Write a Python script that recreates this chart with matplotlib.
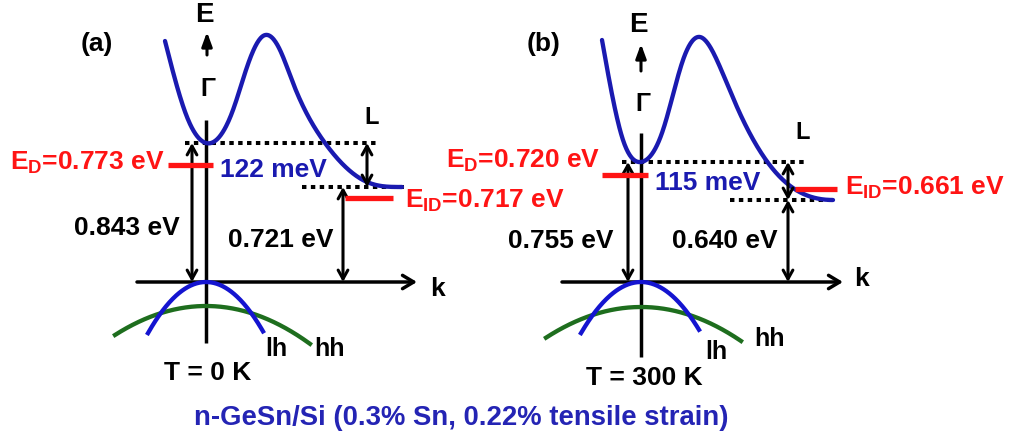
import matplotlib
matplotlib.use("Agg")
import matplotlib.pyplot as plt
import numpy as np

# values shown on the two band diagrams
panel_tags = ["(a)", "(b)"]
temperatures_K = [0, 300]
gap_gamma_eV = [0.843, 0.755]
gap_L_eV = [0.721, 0.640]
donor_gamma_eV = [0.773, 0.720]
donor_L_eV = [0.717, 0.661]
offset_meV = [122, 115]
caption = "n-GeSn/Si (0.3% Sn, 0.22% tensile strain)"

# schematic layout (pixels of the 1017x436 canvas)
panels = [
    dict(x0=206, ky=282, gy=143, ly=187, line_top=120, line_bot=343,
         kx=(137, 417), tag=(97, 44), E=(204, 15), Earr=(55, 32), Gam=(208, 89),
         Lxy=(372, 117), kxy=(438, 289),
         top_dot=(185, 378), bot_dot=(302, 405),
         ed=(165, 168, 213), eid=(198, 345, 393),
         arr_g=192, arr_l=343, arr_off=367,
         ed_lab=(165, 170), eid_lab=(405, 208), off_lab=(220, 177),
         gg_lab=(180, 235), gl_lab=(333, 247),
         lh=(-58, 57, 0.0152), hh=(-91, 104, 0.0035, 306),
         lh_lab=(276, 349), hh_lab=(329, 349), T_lab=(208, 373),
         band=[(-41, 41), (-19, 117), (0, 143), (27, 110), (41, 67), (57, 36),
               (74, 50), (87, 83), (119, 143), (161, 182), (196, 187)]),
    dict(x0=641, ky=282, gy=162, ly=200, line_top=133, line_bot=357,
         kx=(562, 843), tag=(544, 44), E=(638, 25), Earr=(71, 44), Gam=(643, 104),
         Lxy=(803, 132), kxy=(862, 279),
         top_dot=(622, 808), bot_dot=(730, 835),
         ed=(175, 602, 648), eid=(189, 795, 837),
         arr_g=628, arr_l=788, arr_off=788,
         ed_lab=(600, 168), eid_lab=(845, 195), off_lab=(655, 190),
         gg_lab=(613, 248), gl_lab=(778, 248),
         lh=(-60, 58, 0.0142), hh=(-95, 100, 0.0034, 307),
         lh_lab=(716, 352), hh_lab=(769, 339), T_lab=(644, 378),
         band=[(-39, 40), (-18, 140), (0, 162), (22, 130), (42, 60), (59, 37),
               (79, 67), (96, 107), (139, 177), (192, 200)]),
]

BLUE = "#1a1ab0"
RED = "#ff1414"
GREEN = "#1e6e1e"

plt.rcParams["font.family"] = ["Liberation Sans", "DejaVu Sans"]
plt.rcParams["font.weight"] = "bold"
plt.rcParams["mathtext.fontset"] = "custom"
plt.rcParams["mathtext.rm"] = "Liberation Sans:bold"
plt.rcParams["mathtext.it"] = "Liberation Sans:bold"
plt.rcParams["mathtext.bf"] = "Liberation Sans:bold"


def smooth(xk, yk, n=400):
    # cubic spline through the sketch knots: free start, flat at the L end
    xk = np.asarray(xk, float)
    yk = np.asarray(yk, float)
    nk = len(xk)
    h = np.diff(xk)
    d = np.diff(yk) / h
    A = np.zeros((nk, nk))
    r = np.zeros(nk)
    A[0, 0] = 1.0
    for i in range(1, nk - 1):
        A[i, i - 1] = h[i - 1]
        A[i, i] = 2 * (h[i - 1] + h[i])
        A[i, i + 1] = h[i]
        r[i] = 6 * (d[i] - d[i - 1])
    A[-1, -2] = h[-1]
    A[-1, -1] = 2 * h[-1]
    r[-1] = 6 * (0 - d[-1])
    M = np.linalg.solve(A, r)
    x = np.linspace(xk[0], xk[-1], n)
    j = np.clip(np.searchsorted(xk, x) - 1, 0, nk - 2)
    a = xk[j + 1] - x
    b = x - xk[j]
    hj = h[j]
    y = (M[j] * a**3 / (6 * hj) + M[j + 1] * b**3 / (6 * hj)
         + (yk[j] / hj - M[j] * hj / 6) * a + (yk[j + 1] / hj - M[j + 1] * hj / 6) * b)
    return x, y


def arrow(ax, x, y1, y2, style="<->", lw=2.2, ms=14):
    ax.annotate("", xy=(x, y2), xytext=(x, y1),
                arrowprops=dict(arrowstyle=style + ",head_length=0.45,head_width=0.25",
                                lw=lw, color="black", shrinkA=0, shrinkB=0,
                                mutation_scale=ms))


fig = plt.figure(figsize=(10.17, 4.36), dpi=100)
ax = fig.add_axes([0, 0, 1, 1])
ax.set_xlim(0, 1017)
ax.set_ylim(436, 0)
ax.axis("off")

fs = 19
for i, p in enumerate(panels):
    x0, ky = p["x0"], p["ky"]

    # axes
    ax.plot([x0, x0], [p["line_top"], p["line_bot"]], color="black", lw=2.5, solid_capstyle="butt")
    ax.annotate("", xy=(p["kx"][1], ky), xytext=(p["kx"][0], ky),
                arrowprops=dict(arrowstyle="->,head_length=0.5,head_width=0.3", lw=2.5,
                                color="black", shrinkA=0, shrinkB=0, mutation_scale=16))
    ax.annotate("", xy=(p["E"][0] + 3, p["Earr"][1]), xytext=(p["E"][0] + 3, p["Earr"][0]),
                arrowprops=dict(arrowstyle="-|>,head_length=0.6,head_width=0.22", lw=2.2,
                                color="black", shrinkA=0, shrinkB=0, mutation_scale=14))
    ax.text(*p["E"], "E", fontsize=20, ha="center", va="center")
    ax.text(*p["Gam"], "Γ", fontsize=18, ha="center", va="center")
    ax.text(*p["Lxy"], "L", fontsize=17, ha="center", va="center")
    ax.text(*p["kxy"], "k", fontsize=fs, ha="center", va="center")
    ax.text(*p["tag"], panel_tags[i], fontsize=fs, ha="center", va="center")

    # conduction band
    bx, by = zip(*p["band"])
    cx, cy = smooth(np.array(bx) + x0, by)
    ax.plot(cx, cy, color=BLUE, lw=3.1, solid_capstyle="round", zorder=3)

    # valence bands
    lo, hi, c = p["lh"]
    k = np.linspace(lo, hi, 200)
    ax.plot(k + x0, ky + c * k**2, color="#1414d0", lw=3.1, zorder=3)
    lo, hi, c, top = p["hh"]
    k = np.linspace(lo, hi, 200)
    ax.plot(k + x0, top + c * k**2, color=GREEN, lw=3.1, zorder=2)
    ax.text(*p["lh_lab"], "lh", fontsize=18, ha="center", va="center")
    ax.text(*p["hh_lab"], "hh", fontsize=18, ha="center", va="center")
    ax.text(*p["T_lab"], f"T = {temperatures_K[i]} K", fontsize=fs, ha="center", va="center")

    # valley minima
    dots = dict(color="black", lw=2.9, linestyle=(0, (1.1, 1.1)), solid_capstyle="butt")
    ax.plot(p["top_dot"], [p["gy"]] * 2, **dots, zorder=2)
    ax.plot(p["bot_dot"], [p["ly"]] * 2, **dots, zorder=2)

    # donor levels
    y, a, b = p["ed"]
    ax.plot([a, b], [y, y], color=RED, lw=3.8, solid_capstyle="butt", zorder=4)
    y, a, b = p["eid"]
    ax.plot([a, b], [y, y], color=RED, lw=3.8, solid_capstyle="butt", zorder=4)
    ax.text(*p["ed_lab"], r"$\mathrm{E_D}$=%.3f eV" % donor_gamma_eV[i], color=RED,
            fontsize=fs, ha="right", va="baseline")
    ax.text(*p["eid_lab"], r"$\mathrm{E_{ID}}$=%.3f eV" % donor_L_eV[i], color=RED,
            fontsize=fs, ha="left", va="baseline")

    # gaps
    arrow(ax, p["arr_g"], p["gy"], ky)
    arrow(ax, p["arr_l"], p["ly"], ky)
    arrow(ax, p["arr_off"], p["gy"], p["ly"])
    ax.text(*p["gg_lab"], f"{gap_gamma_eV[i]:.3f} eV", fontsize=fs, ha="right", va="baseline")
    ax.text(*p["gl_lab"], f"{gap_L_eV[i]:.3f} eV", fontsize=fs, ha="right", va="baseline")
    ax.text(*p["off_lab"], f"{offset_meV[i]} meV", color=BLUE, fontsize=fs,
            ha="left", va="baseline")

ax.text(461, 418, caption, color="#2424b4", fontsize=19.8, ha="center", va="center")

plt.savefig("out.png", dpi=100)
plt.close()
